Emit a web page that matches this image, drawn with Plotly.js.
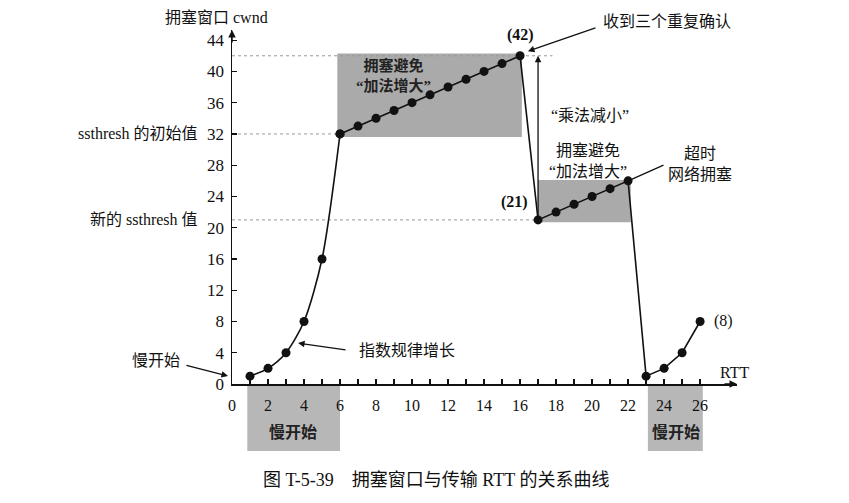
<!DOCTYPE html>
<html>
<head>
<meta charset="utf-8">
<script src="https://cdn.plot.ly/plotly-3.0.1.min.js"></script>
<style>html,body{margin:0;padding:0;background:#fff;}#chart{width:849px;height:503px;}</style>
</head>
<body>
<div id="chart"></div>
<script>
// ---- data ----
const rtt  = [1,2,3,4,5,6,7,8,9,10,11,12,13,14,15,16,17,18,19,20,21,22,23,24,25,26];
const cwnd = [1,2,4,8,16,32,33,34,35,36,37,38,39,40,41,42,21,22,23,24,25,26,1,2,4,8];
const xTickVals = [0,2,4,6,8,10,12,14,16,18,20,22,24,26];
const xMinorVals = [1,3,5,7,9,11,13,15,17,19,21,23,25];
const yTickVals = [0,4,8,12,16,20,24,28,32,36,40,44];
const ssthreshInit = 32;
const ssthreshNew = 21;
const peak = 42;

const FONT = "'Liberation Serif', 'Noto Sans CJK SC', serif";
const ink = '#111';

// slow start (curved) part and the rest (piecewise linear)
const slowEnd = 6;
const traces = [
  {x: rtt.slice(0, slowEnd), y: cwnd.slice(0, slowEnd), mode: 'lines+markers',
   line: {shape: 'spline', smoothing: 0.8, color: ink, width: 1.6},
   marker: {color: ink, size: 9}, hoverinfo: 'none'},
  {x: rtt.slice(slowEnd - 1), y: cwnd.slice(slowEnd - 1), mode: 'lines+markers',
   line: {color: ink, width: 1.6},
   marker: {color: ink, size: 9}, hoverinfo: 'none'}
];

const shapes = [
  {type:'rect', xref:'x', yref:'y', x0:5.85, x1:16.1, y0:31.6, y1:42.3, fillcolor:'rgb(170,170,170)', line:{width:0}, layer:'below'},
  {type:'rect', xref:'x', yref:'y', x0:17, x1:22.15, y0:20.7, y1:26.1, fillcolor:'rgb(170,170,170)', line:{width:0}, layer:'below'},
  {type:'rect', xref:'x', yref:'paper', x0:0.85, x1:6.0, y0:-0.006, y1:-0.189, fillcolor:'rgb(183,183,183)', line:{width:0}, layer:'below'},
  {type:'rect', xref:'x', yref:'paper', x0:23.1, x1:26.15, y0:-0.006, y1:-0.189, fillcolor:'rgb(183,183,183)', line:{width:0}, layer:'below'},
  {type:'line', xref:'x', yref:'y', x0:0, x1:6, y0:ssthreshInit, y1:ssthreshInit, line:{color:'#999', width:1, dash:'dot'}, layer:'below'},
  {type:'line', xref:'x', yref:'y', x0:0, x1:17.8, y0:peak, y1:peak, line:{color:'#999', width:1, dash:'dot'}, layer:'below'},
  {type:'line', xref:'x', yref:'y', x0:0, x1:17, y0:ssthreshNew, y1:ssthreshNew, line:{color:'#999', width:1, dash:'dot'}, layer:'below'}
];

const f16 = {family: FONT, size: 16, color: ink};
const f17 = {family: FONT, size: 17, color: ink};
const annotations = [
  // axis arrowheads
  {xref:'paper', yref:'y', x:1, y:0, ax:-14, ay:0, text:'', showarrow:true, arrowhead:2, arrowsize:1, arrowwidth:1.5, arrowcolor:ink},
  {xref:'paper', yref:'paper', x:0, y:1, ax:0, ay:14, text:'', showarrow:true, arrowhead:2, arrowsize:1, arrowwidth:1.5, arrowcolor:ink},
  // axis titles
  {xref:'paper', yref:'paper', x:-0.031, y:1.034, text:'拥塞窗口 cwnd', showarrow:false, font:f16, xanchor:'center', yanchor:'middle'},
  {xref:'paper', yref:'y', x:0.996, y:1.5, text:'RTT', showarrow:false, font:f16, xanchor:'center', yanchor:'middle'},
  // threshold labels
  {xref:'paper', yref:'y', x:-0.063, y:ssthreshInit, text:'ssthresh 的初始值', showarrow:false, font:f16, xanchor:'right', yanchor:'middle'},
  {xref:'paper', yref:'y', x:-0.063, y:ssthreshNew, text:'新的 ssthresh 值', showarrow:false, font:f16, xanchor:'right', yanchor:'middle'},
  // slow start left label + arrow
  {xref:'paper', yref:'y', x:-0.10, y:3.07, text:'慢开始', showarrow:false, font:f16, xanchor:'right', yanchor:'middle'},
  {xref:'paper', yref:'paper', x:-0.008, y:0.0226, ax:-43, ay:-11, text:'', showarrow:true, arrowhead:2, arrowsize:1, arrowwidth:1.3, arrowcolor:ink},
  // exponential growth
  {xref:'x', yref:'y', x:6.94, y:4.35, text:'指数规律增长', showarrow:false, font:f16, xanchor:'left', yanchor:'middle'},
  {xref:'x', yref:'y', x:3.67, y:5.24, ax:49, ay:7, text:'', showarrow:true, arrowhead:2, arrowsize:1, arrowwidth:1.3, arrowcolor:ink},
  // first congestion avoidance
  {xref:'x', yref:'y', x:8.95, y:39.5, text:'<b>拥塞避免<br>“加法增大”</b>', showarrow:false, font:{family:FONT, size:15, color:'#222'}, xanchor:'center', yanchor:'middle'},
  // peak
  {xref:'x', yref:'y', x:16, y:44.6, text:'<b>(42)</b>', showarrow:false, font:f16, xanchor:'center', yanchor:'middle'},
  {xref:'x', yref:'paper', x:20.5, y:1.0226, text:'收到三个重复确认', showarrow:false, font:f16, xanchor:'left', yanchor:'middle'},
  {xref:'x', yref:'y', x:16.44, y:42.58, ax:69, ay:-24, text:'', showarrow:true, arrowhead:2, arrowsize:1, arrowwidth:1.3, arrowcolor:ink},
  // multiplicative decrease
  {xref:'x', yref:'y', x:19.9, y:34.4, text:'“乘法减小”', showarrow:false, font:f16, xanchor:'center', yanchor:'middle'},
  {xref:'x', yref:'y', x:17, y:peak, axref:'x', ayref:'y', ax:17, ay:ssthreshNew + 0.3, text:'', showarrow:true, arrowhead:2, arrowsize:1, arrowwidth:1.3, arrowcolor:ink},
  // second congestion avoidance
  {xref:'x', yref:'y', x:19.8, y:28.6, text:'拥塞避免<br>“加法增大”', showarrow:false, font:f16, xanchor:'center', yanchor:'middle'},
  {xref:'x', yref:'y', x:15.7, y:23.3, text:'<b>(21)</b>', showarrow:false, font:f16, xanchor:'center', yanchor:'middle'},
  // timeout
  {xref:'x', yref:'y', x:26.0, y:28.2, text:'超时<br>网络拥塞', showarrow:false, font:f16, xanchor:'center', yanchor:'middle'},
  {xref:'x', yref:'y', x:22.1, y:26.1, axref:'x', ayref:'y', ax:24.05, ay:28.1, text:'', showarrow:true, arrowhead:0, arrowwidth:1.3, arrowcolor:ink},
  // end label
  {xref:'x', yref:'y', x:26.65, y:8, text:'(8)', showarrow:false, font:f16, xanchor:'left', yanchor:'middle'},
  // slow start boxes labels
  {xref:'x', yref:'paper', x:3.4, y:-0.136, text:'<b>慢开始</b>', showarrow:false, font:{family:FONT, size:16, color:'#222'}, xanchor:'center', yanchor:'middle'},
  {xref:'x', yref:'paper', x:24.65, y:-0.136, text:'<b>慢开始</b>', showarrow:false, font:{family:FONT, size:16, color:'#222'}, xanchor:'center', yanchor:'middle'},
  // caption
  {xref:'paper', yref:'paper', x:0.404, y:-0.271, text:'图 T-5-39　拥塞窗口与传输 RTT 的关系曲线', showarrow:false, font:{family:FONT, size:18, color:ink}, xanchor:'center', yanchor:'middle'}
];

const layout = {
  width: 849, height: 503,
  margin: {l: 232, r: 112, t: 30, b: 119, pad: 0},
  paper_bgcolor: '#fff', plot_bgcolor: 'rgba(0,0,0,0)',
  showlegend: false,
  font: {family: FONT, size: 16, color: ink},
  xaxis: {
    range: [0, 28.05], showgrid: false, zeroline: false,
    showline: true, linecolor: ink, linewidth: 1.5,
    tickmode: 'array', tickvals: xTickVals, ticks: 'inside', ticklen: 5, tickwidth: 1.3, tickcolor: ink,
    ticklabelstandoff: 6,
    minor: {tickmode: 'array', tickvals: xMinorVals, ticks: 'inside', ticklen: 5, tickwidth: 1.3, tickcolor: ink},
    tickfont: {family: FONT, size: 16, color: ink}, fixedrange: true
  },
  yaxis: {
    range: [0, 45.3], showgrid: false, zeroline: false,
    showline: true, linecolor: ink, linewidth: 1.5,
    tickmode: 'array', tickvals: yTickVals, ticks: 'inside', ticklen: 5, tickwidth: 1.3, tickcolor: ink,
    ticklabelstandoff: 3,
    tickfont: {family: FONT, size: 17, color: ink}, fixedrange: true
  },
  shapes: shapes,
  annotations: annotations
};

Plotly.newPlot('chart', traces, layout, {staticPlot: true, displayModeBar: false});
</script>
</body>
</html>
